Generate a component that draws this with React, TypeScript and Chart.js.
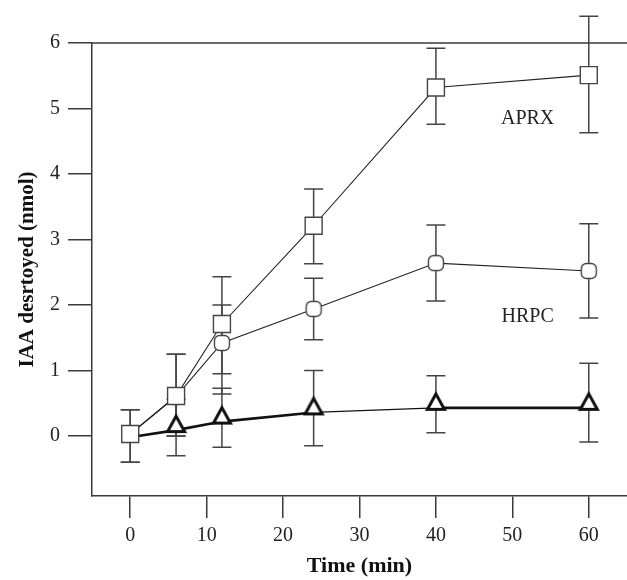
import React, { useEffect, useRef } from "react";
import { Chart, registerables } from "chart.js";

Chart.register(...registerables);

// ---- data ----
const time = [0, 6, 12, 24, 40, 60];

const aprx = [0.03, 0.61, 1.71, 3.21, 5.32, 5.51];
const aprxHi = [0.4, 1.25, 2.43, 3.77, 5.92, 6.41];
const aprxLo = [-0.4, 0.0, 0.95, 2.63, 4.76, 4.63];

const hrpc = [0.03, 0.6, 1.42, 1.94, 2.64, 2.52];
const hrpcHi = [0.4, 1.25, 2.0, 2.41, 3.22, 3.24];
const hrpcLo = [-0.4, 0.0, 0.64, 1.47, 2.06, 1.8];

const ctrl = [-0.02, 0.09, 0.22, 0.36, 0.43, 0.43];
const ctrlHi = [-0.02, 0.56, 0.73, 1.0, 0.92, 1.11];
const ctrlLo = [-0.02, -0.3, -0.17, -0.15, 0.05, -0.09];

const xTicks = [0, 10, 20, 30, 40, 50, 60];
const yTicks = [0, 1, 2, 3, 4, 5, 6];

const labels = [
  { text: "APRX", x: 52, y: 4.85 },
  { text: "HRPC", x: 52, y: 1.82 },
];

const SERIF = "'Liberation Serif', 'DejaVu Serif', serif";
const AXIS = "#3a3a3a";

function makeTriangle(): HTMLCanvasElement {
  const c = document.createElement("canvas");
  c.width = 24;
  c.height = 40;
  const g = c.getContext("2d")!;
  g.lineWidth = 3;
  g.lineJoin = "miter";
  g.strokeStyle = "#111";
  g.fillStyle = "#fff";
  g.beginPath();
  g.moveTo(12, 6);
  g.lineTo(3.5, 21.5);
  g.lineTo(20.5, 21.5);
  g.closePath();
  g.fill();
  g.stroke();
  return c;
}

function makeBlob(): HTMLCanvasElement {
  const c = document.createElement("canvas");
  c.width = 20;
  c.height = 20;
  const g = c.getContext("2d")!;
  g.lineWidth = 1.4;
  g.strokeStyle = "#444";
  g.fillStyle = "#fff";
  g.beginPath();
  (g as any).roundRect(2.5, 2.5, 15, 15, 5);
  g.fill();
  g.stroke();
  return c;
}

const pts = (ys: number[]) => time.map((t, i) => ({ x: t, y: ys[i] }));

export default function App() {
  const ref = useRef<HTMLCanvasElement>(null);

  useEffect(() => {
    const canvas = ref.current!;
    const tri = makeTriangle();
    const blob = makeBlob();

    const errorBars = {
      id: "errorBars",
      beforeDatasetsDraw(chart: any) {
        const ctx = chart.ctx;
        const xs = chart.scales.x;
        const ys = chart.scales.y;
        ctx.save();
        ctx.strokeStyle = "#444";
        ctx.lineWidth = 1.5;
        chart.data.datasets.forEach((ds: any) => {
          ds.data.forEach((p: any, i: number) => {
            const hi = ds.errHi[i];
            const lo = ds.errLo[i];
            if (hi === lo) return;
            const px = xs.getPixelForValue(p.x);
            const pHi = ys.getPixelForValue(hi);
            const pLo = ys.getPixelForValue(lo);
            ctx.beginPath();
            ctx.moveTo(px, pHi);
            ctx.lineTo(px, pLo);
            ctx.moveTo(px - 9.5, pHi);
            ctx.lineTo(px + 9.5, pHi);
            ctx.moveTo(px - 9.5, pLo);
            ctx.lineTo(px + 9.5, pLo);
            ctx.stroke();
          });
        });
        ctx.restore();
      },
      afterDraw(chart: any) {
        const ctx = chart.ctx;
        const a = chart.chartArea;
        ctx.save();
        ctx.strokeStyle = AXIS;
        ctx.lineWidth = 1.5;
        ctx.beginPath();
        ctx.moveTo(a.left, a.top);
        ctx.lineTo(a.right, a.top);
        ctx.stroke();
        ctx.fillStyle = "#222";
        ctx.font = `20px ${SERIF}`;
        ctx.textAlign = "center";
        ctx.textBaseline = "middle";
        labels.forEach((l) => {
          ctx.fillText(
            l.text,
            chart.scales.x.getPixelForValue(l.x),
            chart.scales.y.getPixelForValue(l.y)
          );
        });
        ctx.restore();
      },
    };

    const chart = new Chart(canvas, {
      type: "line",
      data: {
        datasets: [
          {
            label: "APRX",
            data: pts(aprx),
            errHi: aprxHi,
            errLo: aprxLo,
            borderColor: "#222",
            borderWidth: 1.1,
            pointStyle: "rect",
            pointRadius: 12,
            pointBorderWidth: 1.4,
            pointBorderColor: "#444",
            pointBackgroundColor: "#fff",
            tension: 0,
          } as any,
          {
            label: "HRPC",
            data: pts(hrpc),
            errHi: hrpcHi,
            errLo: hrpcLo,
            borderColor: "#222",
            borderWidth: 1.1,
            pointStyle: [blob, blob, blob, blob, blob, blob],
            pointRadius: [0, 8, 8, 8, 8, 8],
            tension: 0,
          } as any,
          {
            label: "Control",
            data: pts(ctrl),
            errHi: ctrlHi,
            errLo: ctrlLo,
            borderColor: "#111",
            borderWidth: 2.6,
            segment: {
              borderWidth: (c: any) => (c.p0DataIndex === 3 ? 1.2 : 2.6),
            },
            pointStyle: [tri, tri, tri, tri, tri, tri],
            pointRadius: [0, 10, 10, 10, 10, 10],
            tension: 0,
          } as any,
        ],
      },
      options: {
        responsive: false,
        animation: false,
        layout: { autoPadding: false, padding: { top: 43, left: 0, right: 0, bottom: 0 } },
        plugins: {
          legend: { display: false },
          tooltip: { enabled: false },
        },
        scales: {
          x: {
            type: "linear",
            min: -5,
            max: 65,
            afterBuildTicks: (s: any) => {
              s.ticks = xTicks.map((v) => ({ value: v }));
            },
            afterFit: (s: any) => {
              s.height = 84;
              s.paddingLeft = 0;
              s.paddingRight = 0;
            },
            ticks: {
              autoSkip: false,
              maxRotation: 0,
              padding: 6,
              color: "#222",
              font: { family: SERIF, size: 20 },
            },
            grid: {
              drawOnChartArea: false,
              drawTicks: true,
              tickLength: 22,
              color: AXIS,
              lineWidth: 1.5,
            },
            border: { display: true, color: AXIS, width: 1.5 },
            title: {
              display: true,
              text: "Time (min)",
              color: "#111",
              font: { family: SERIF, size: 22, weight: "bold" },
              padding: { top: 0, bottom: 0 },
            },
          },
          y: {
            type: "linear",
            min: -0.916,
            max: 6,
            afterBuildTicks: (s: any) => {
              s.ticks = yTicks.map((v) => ({ value: v }));
            },
            afterFit: (s: any) => {
              s.width = 92;
            },
            ticks: {
              autoSkip: false,
              padding: 8,
              color: "#222",
              font: { family: SERIF, size: 20 },
            },
            grid: {
              drawOnChartArea: false,
              drawTicks: true,
              tickLength: 24,
              color: AXIS,
              lineWidth: 1.5,
            },
            border: { display: true, color: AXIS, width: 1.5 },
            title: {
              display: true,
              text: "IAA desrtoyed (nmol)",
              color: "#111",
              font: { family: SERIF, size: 21, weight: "bold" },
              padding: { top: 15, bottom: 0 },
            },
          },
        },
      } as any,
      plugins: [errorBars],
    });

    return () => chart.destroy();
  }, []);

  return (
    <div style={{ position: "absolute", left: 0, top: 0, width: 627, height: 580, background: "#fff" }}>
      <canvas ref={ref} width={627} height={580} style={{ display: "block" }} />
    </div>
  );
}
